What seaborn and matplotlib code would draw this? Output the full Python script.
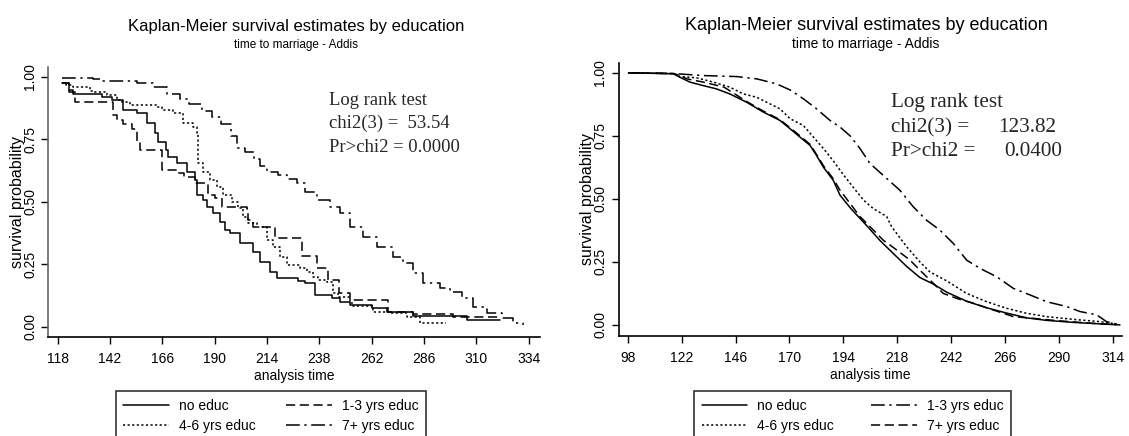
import matplotlib
matplotlib.use("Agg")
import matplotlib.pyplot as plt
import seaborn as sns
import pandas as pd

# ---------------- data: left panel (steps) ----------------
noeduc_t_A = [119.8, 123.0, 125.2, 138.2, 142.8, 148.1, 154.2, 158.8, 162.6, 164.2, 167.7, 168.8,
              172.6, 177.2, 181.0, 181.8, 184.8, 186.3, 189.4, 192.5, 194.8, 197.1, 201.6, 207.8,
              210.8, 215.4, 218.5, 228.0, 231.4, 236.0, 243.7, 247.5, 252.1, 262.0, 268.9, 281.1,
              305.6, 320.9]
noeduc_s_A = [0.975, 0.948, 0.932, 0.920, 0.908, 0.868, 0.855, 0.815, 0.775, 0.741, 0.708, 0.681,
              0.654, 0.621, 0.588, 0.528, 0.507, 0.481, 0.454, 0.421, 0.387, 0.374, 0.334, 0.300,
              0.260, 0.220, 0.196, 0.185, 0.174, 0.127, 0.114, 0.100, 0.087, 0.074, 0.060, 0.043,
              0.027, 0.027]

edu13_t_A = [119.8, 123.4, 126.0, 143.5, 145.0, 148.1, 151.9, 154.2, 155.8, 165.7, 172.6, 176.0,
             181.0, 187.1, 190.0, 193.2, 204.7, 205.5, 207.8, 217.7, 229.9, 237.1, 242.1, 247.2,
             252.1, 269.7, 281.1, 299.5, 320.9]
edu13_s_A = [0.975, 0.940, 0.901, 0.848, 0.828, 0.810, 0.790, 0.745, 0.708, 0.628, 0.615, 0.601,
             0.574, 0.527, 0.515, 0.481, 0.470, 0.427, 0.400, 0.354, 0.282, 0.234, 0.187, 0.134,
             0.107, 0.060, 0.050, 0.040, 0.035]

edu46_t_A = [119.8, 122.0, 125.2, 132.8, 134.4, 140.5, 145.1, 147.4, 151.2, 163.4, 165.7, 171.1,
             175.6, 180.2, 181.8, 182.5, 184.8, 187.9, 190.9, 194.0, 197.8, 200.9, 203.2, 205.5,
             209.3, 213.9, 216.9, 220.0, 223.0, 229.1, 232.2, 235.3, 237.6, 241.4, 244.4, 246.7,
             252.1, 253.6, 262.8, 270.4, 278.1, 284.2, 296.0]
edu46_s_A = [0.975, 0.968, 0.959, 0.945, 0.938, 0.928, 0.908, 0.898, 0.888, 0.878, 0.868, 0.855,
             0.815, 0.801, 0.775, 0.654, 0.621, 0.588, 0.561, 0.528, 0.501, 0.474, 0.441, 0.414,
             0.401, 0.347, 0.320, 0.280, 0.247, 0.234, 0.220, 0.200, 0.187, 0.180, 0.134, 0.120,
             0.094, 0.083, 0.060, 0.055, 0.040, 0.014, 0.014]

edu7_t_A = [119.8, 134.3, 137.4, 154.2, 161.9, 168.0, 174.0, 178.0, 184.0, 189.0, 193.0, 197.5,
            200.1, 204.0, 208.0, 211.0, 214.0, 219.0, 223.0, 227.6, 231.4, 236.8, 242.9, 247.5,
            252.1, 258.2, 264.3, 272.0, 276.5, 281.1, 285.7, 293.4, 298.0, 303.3, 308.7, 314.8,
            321.7, 327.0, 331.6]
edu7_s_A = [0.995, 0.990, 0.982, 0.975, 0.961, 0.930, 0.910, 0.890, 0.865, 0.840, 0.810, 0.765,
            0.715, 0.700, 0.670, 0.645, 0.620, 0.607, 0.590, 0.574, 0.541, 0.508, 0.481, 0.454,
            0.401, 0.361, 0.321, 0.280, 0.254, 0.214, 0.174, 0.154, 0.140, 0.113, 0.080, 0.054,
            0.034, 0.013, 0.007]

# ---------------- data: right panel ----------------
noeduc_t_B = [98.3, 118.3, 121.3, 125.7, 131.7, 137.6, 143.5, 151.0, 158.4, 165.8, 170.3, 174.7,
              179.2, 182.1, 185.1, 189.5, 192.5, 197.5, 204.4, 210.3, 216.3, 222.2, 228.1, 234.1,
              240.0, 248.9, 257.8, 266.7, 275.6, 284.5, 296.4, 308.3, 317.2]
noeduc_s_B = [1.0, 0.996, 0.982, 0.963, 0.949, 0.936, 0.916, 0.883, 0.844, 0.811, 0.778, 0.745,
              0.712, 0.672, 0.626, 0.574, 0.515, 0.460, 0.394, 0.335, 0.283, 0.232, 0.188, 0.162,
              0.130, 0.094, 0.068, 0.047, 0.028, 0.018, 0.010, 0.004, 0.0]

edu13_t_B = [98.3, 118.3, 131.7, 146.5, 155.4, 164.3, 170.3, 176.2, 182.1, 188.1, 192.5, 197.0,
             201.4, 205.9, 211.8, 219.2, 225.2, 231.1, 237.0, 243.0, 248.9, 254.9, 262.3, 269.7,
             277.1, 284.5, 293.4, 299.4, 306.8, 311.2, 317.2]
edu13_s_B = [1.0, 0.997, 0.989, 0.985, 0.976, 0.956, 0.932, 0.897, 0.857, 0.811, 0.785, 0.750,
             0.700, 0.640, 0.593, 0.534, 0.468, 0.415, 0.376, 0.323, 0.257, 0.224, 0.191, 0.145,
             0.119, 0.092, 0.073, 0.053, 0.040, 0.013, 0.0]

edu46_t_B = [98.3, 118.3, 121.3, 128.7, 136.1, 143.5, 149.5, 155.4, 161.3, 165.8, 170.3, 176.2,
             180.7, 185.1, 189.6, 194.1, 198.5, 203.0, 207.4, 213.3, 215.5, 222.2, 228.1, 232.6,
             240.0, 248.9, 257.8, 266.7, 275.6, 284.5, 296.4, 308.3, 315.7]
edu46_s_B = [1.0, 0.997, 0.985, 0.980, 0.963, 0.943, 0.916, 0.903, 0.877, 0.857, 0.818, 0.791,
             0.745, 0.700, 0.650, 0.595, 0.545, 0.495, 0.461, 0.430, 0.390, 0.310, 0.250, 0.210,
             0.175, 0.125, 0.092, 0.066, 0.046, 0.033, 0.022, 0.013, 0.004]

edu7_t_B = [98.3, 118.3, 121.3, 124.3, 131.7, 140.9, 151.0, 158.4, 165.8, 170.3, 174.7, 179.2,
            182.1, 185.1, 189.5, 192.5, 201.4, 207.4, 211.8, 217.8, 223.7, 229.6, 234.1, 238.5,
            244.5, 251.9, 260.8, 269.7, 278.6, 289.0, 303.8, 315.7]
edu7_s_B = [1.0, 0.997, 0.990, 0.976, 0.963, 0.943, 0.886, 0.848, 0.814, 0.782, 0.750, 0.716,
            0.676, 0.632, 0.580, 0.535, 0.430, 0.376, 0.336, 0.297, 0.257, 0.204, 0.165, 0.125,
            0.105, 0.086, 0.059, 0.033, 0.026, 0.017, 0.007, 0.001]

labels = ["no educ", "1-3 yrs educ", "4-6 yrs educ", "7+ yrs educ"]
xticks_A = [118, 142, 166, 190, 214, 238, 262, 286, 310, 334]
xticks_B = [98, 122, 146, 170, 194, 218, 242, 266, 290, 314]
yticks = [0.00, 0.25, 0.50, 0.75, 1.00]

# ---------------- styling ----------------
sns.set_theme(style="white")
plt.rcParams["font.family"] = ["Liberation Sans", "DejaVu Sans"]

W, H = 1129, 436
fig = plt.figure(figsize=(W / 100, H / 100), dpi=100)

def fx(px):
    return px / W

def fy(py):
    return 1 - py / H

SOLID = "-"
DASH = (0, (6, 3))
DOT = (0, (1.4, 1.6))
DASHDOT = (0, (9, 3, 1.5, 3))

def panel(ax, series, xticks, xlim, ylim, spine_col, drawstyle):
    for (t, s, name, ls) in series:
        df = pd.DataFrame({"t": t, "s": s})
        sns.lineplot(data=df, x="t", y="s", ax=ax, color="black", linestyle=ls,
                     linewidth=1.1, label=name, legend=False, sort=False,
                     drawstyle=drawstyle)
    ax.set_xlim(*xlim)
    ax.set_ylim(*ylim)
    ax.set_xticks(xticks)
    ax.set_yticks(yticks)
    ax.set_yticklabels([f"{v:.2f}" for v in yticks], rotation=90, va="center")
    for sp in ["top", "right"]:
        ax.spines[sp].set_visible(False)
    ax.spines["left"].set_color(spine_col)
    ax.spines["bottom"].set_color("black")
    ax.spines["left"].set_linewidth(1.2)
    ax.spines["bottom"].set_linewidth(1.2)
    ax.tick_params(axis="both", which="major", direction="out", length=5, width=1,
                   color="black", labelsize=10, pad=3, labelcolor="black",
                   bottom=True, left=True)
    ax.tick_params(axis="x", pad=6)
    ax.set_xlabel("analysis time", fontsize=10, labelpad=2, color="black")
    ax.set_ylabel("survival probability", fontsize=11.5, labelpad=-1, color="black")
    ax.set_facecolor("white")
    ax.grid(False)

axA = fig.add_axes([fx(48.3), fy(336.7), fx(540 - 48.3), (336.7 - 66.7) / H])
axB = fig.add_axes([fx(618.5), fy(335.5), fx(1122 - 618.5), (335.5 - 62.7) / H])

seriesA = [
    (noeduc_t_A, noeduc_s_A, labels[0], SOLID),
    (edu46_t_A, edu46_s_A, labels[2], DOT),
    (edu13_t_A, edu13_s_A, labels[1], DASH),
    (edu7_t_A, edu7_s_A, labels[3], DASHDOT),
]
seriesB = [
    (noeduc_t_B, noeduc_s_B, labels[0], SOLID),
    (edu46_t_B, edu46_s_B, labels[2], DOT),
    (edu13_t_B, edu13_s_B, labels[1], DASHDOT),
    (edu7_t_B, edu7_s_B, labels[3], DASH),
]
panel(axA, seriesA, xticks_A, (113.7, 339.2), (-0.040, 1.041), "#666666", "steps-post")
panel(axB, seriesB, xticks_B, (93.9, 318.1), (-0.042, 1.040), "black", "default")

for ax, cx, cs in [(axA, 271, 2.2), (axB, 852.5, 2.7)]:
    h, l = ax.get_legend_handles_labels()
    leg = ax.legend(h, l, ncol=2, loc="upper center", bbox_to_anchor=(fx(cx), fy(391)),
                    bbox_transform=fig.transFigure, frameon=True, fancybox=False,
                    edgecolor="black", fontsize=10, handlelength=3.3, handletextpad=0.7,
                    columnspacing=cs, labelspacing=0.45, borderpad=0.55, borderaxespad=0)
    leg.get_frame().set_linewidth(1.2)
    for txt in leg.get_texts():
        txt.set_color("black")

# titles
fig.text(fx(296), fy(27), "Kaplan-Meier survival estimates by education", ha="center",
         va="center", fontsize=12, color="black")
fig.text(fx(296), fy(45), "time to marriage - Addis", ha="center", va="center",
         fontsize=8.5, color="black")
fig.text(fx(866), fy(25), "Kaplan-Meier survival estimates by education", ha="center",
         va="center", fontsize=13, color="black")
fig.text(fx(866), fy(44), "time to marriage - Addis", ha="center", va="center",
         fontsize=10, color="black")

# log-rank annotations
serif = ["Liberation Serif", "DejaVu Serif"]
fig.text(fx(329), fy(105), "Log rank test", family=serif, fontsize=13.4, va="baseline")
fig.text(fx(329), fy(128), "chi2(3) =  53.54", family=serif, fontsize=13.4, va="baseline")
fig.text(fx(329), fy(152), "Pr>chi2 = 0.0000", family=serif, fontsize=13.4, va="baseline")

fig.text(fx(891), fy(107), "Log rank test", family=serif, fontsize=15.3, va="baseline")
fig.text(fx(891), fy(132), "chi2(3) =", family=serif, fontsize=15.3, va="baseline")
fig.text(fx(998), fy(132), "123.82", family=serif, fontsize=15.3, va="baseline")
fig.text(fx(891), fy(156), "Pr>chi2 =", family=serif, fontsize=15.3, va="baseline")
fig.text(fx(1004), fy(156), "0.0400", family=serif, fontsize=15.3, va="baseline")

fig.savefig("out.png", dpi=100, facecolor="white")
